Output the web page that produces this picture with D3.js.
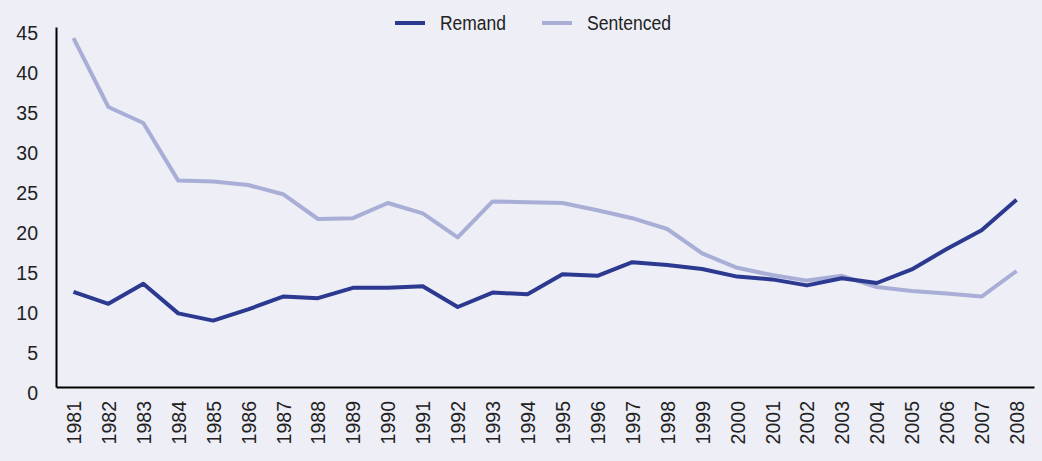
<!DOCTYPE html>
<html>
<head>
<meta charset="utf-8">
<script src="https://cdn.jsdelivr.net/npm/d3@7"></script>
<style>
  body { margin: 0; background: #edeef6; }
  svg { display: block; }
  text { font-family: "Liberation Sans", Arial, sans-serif; fill: #222; }
</style>
</head>
<body>
<svg id="chart" width="1042" height="461"></svg>
<script>
// Values (per 100,000)
const years = d3.range(1981, 2009).map(String);
const remand = [11.9, 10.4, 12.9, 9.2, 8.3, 9.7, 11.3, 11.1, 12.4, 12.4, 12.6, 10.0, 11.8, 11.6,
                14.1, 13.9, 15.6, 15.25, 14.75, 13.8, 13.45, 12.7, 13.6, 13.0, 14.7, 17.25, 19.6, 23.4];
const sentenced = [43.6, 35.0, 33.0, 25.8, 25.7, 25.25, 24.1, 21.0, 21.1, 23.0, 21.7, 18.7, 23.2, 23.1,
                   23.0, 22.1, 21.1, 19.75, 16.7, 14.9, 14.0, 13.3, 13.9, 12.5, 12.0, 11.7, 11.3, 14.5];
const yTicks = [0, 5, 10, 15, 20, 25, 30, 35, 40, 45];
const seriesNames = ["Remand", "Sentenced"];
const colours = ["#2b3990", "#a9aed6"];

(function() {
    const svg = d3.select('#chart');
    const left = 56, right = 1034, plotTop = 27, plotBottom = 387;
    const font = '"Liberation Sans", Arial, sans-serif';

    const x = d3.scalePoint().domain(years).range([left, right]).padding(0.5);
    const y = d3.scaleLinear().domain([0, 45]).range([plotBottom, plotTop]);

    // y axis
    const yAxis = svg.append('g').attr('transform', 'translate(' + left + ',0)')
        .call(d3.axisLeft(y).tickValues(yTicks).tickSize(0).tickPadding(18));
    yAxis.select('.domain').attr('stroke', '#000').attr('stroke-width', 2);
    yAxis.selectAll('text').attr('font-size', 19.5).attr('dy', '0.62em')
        .style('font-family', font).attr('fill', '#222');

    // x axis
    const xAxis = svg.append('g').attr('transform', 'translate(0,' + plotBottom + ')')
        .call(d3.axisBottom(x).tickSize(0).tickPadding(0));
    xAxis.select('.domain').attr('stroke', '#000').attr('stroke-width', 2);
    xAxis.selectAll('text')
        .attr('font-size', 19.5)
        .attr('text-anchor', 'end')
        .attr('transform', 'rotate(-90)')
        .attr('x', -14).attr('y', 0).attr('dy', '0.36em')
        .style('font-family', font).attr('fill', '#222');

    // lines - sentenced first so remand sits on top
    const line = d3.line().x((d, i) => x(years[i])).y(d => y(d));
    [sentenced, remand].forEach(function(vals, k) {
        svg.append('path')
            .datum(vals)
            .attr('d', line)
            .attr('fill', 'none')
            .attr('stroke', colours[1 - k])
            .attr('stroke-width', 4)
            .attr('stroke-linejoin', 'round');
    });

    // legend
    const legendX = [395, 542];
    const legendW = [66, 84];   // condensed look of the original face
    seriesNames.forEach(function(name, k) {
        const g = svg.append('g').attr('transform', 'translate(' + legendX[k] + ',23)');
        g.append('line').attr('x1', 0).attr('x2', 30).attr('y1', 0).attr('y2', 0)
            .attr('stroke', colours[k]).attr('stroke-width', 4);
        g.append('text').attr('x', 45).attr('y', 0).attr('dy', '0.36em')
            .attr('font-size', 19.5)
            .attr('textLength', legendW[k]).attr('lengthAdjust', 'spacingAndGlyphs')
            .text(name);
    });
})();
</script>
</body>
</html>
